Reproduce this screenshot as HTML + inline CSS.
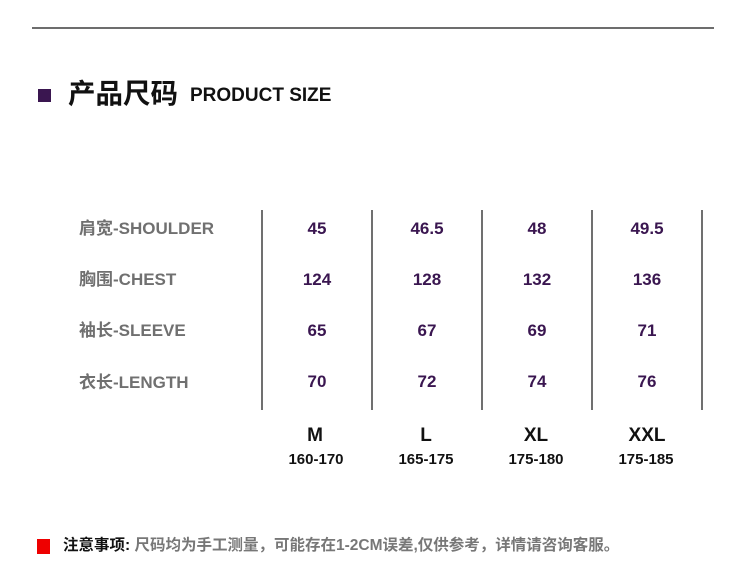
<!DOCTYPE html>
<html><head><meta charset="utf-8"><style>
body{margin:0;width:750px;height:588px;background:#fff;position:relative;overflow:hidden;font-family:"Liberation Sans","Noto Sans CJK SC",sans-serif;}
.a{position:absolute;white-space:nowrap}
.c{position:absolute;transform:translateX(-50%);white-space:nowrap;text-align:center}
.v{position:absolute;top:210px;width:2px;height:200px;background:#707070}
.lbl{left:79px;font-size:17px;color:#707070;font-weight:bold;line-height:20px}
.num{font-size:17px;color:#3a1650;font-weight:bold;line-height:20px}
.sz{font-size:19px;color:#111;font-weight:bold;line-height:22px}
.rg{font-size:15px;color:#111;font-weight:bold;line-height:18px}
</style></head><body>
<div class="a" style="left:32px;top:27px;width:682px;height:2px;background:#6d6d6d"></div>
<div class="a" style="left:38px;top:89px;width:13px;height:13px;background:#3a1650"></div>
<div class="a" style="left:68px;top:77px;font-size:27.5px;font-weight:bold;color:#111;line-height:34px">产品尺码</div>
<div class="a" style="left:190px;top:85px;font-size:19px;font-weight:bold;color:#111;line-height:22px">PRODUCT SIZE</div>

<div class="v" style="left:261px"></div><div class="v" style="left:371px"></div><div class="v" style="left:481px"></div><div class="v" style="left:591px"></div><div class="v" style="left:701px"></div>

<div class="a lbl" style="top:219px">肩宽-SHOULDER</div>
<div class="a lbl" style="top:270px">胸围-CHEST</div>
<div class="a lbl" style="top:321px">袖长-SLEEVE</div>
<div class="a lbl" style="top:373px">衣长-LENGTH</div>

<div class="c num" style="left:317px;top:219px">45</div><div class="c num" style="left:427px;top:219px">46.5</div><div class="c num" style="left:537px;top:219px">48</div><div class="c num" style="left:647px;top:219px">49.5</div>
<div class="c num" style="left:317px;top:270px">124</div><div class="c num" style="left:427px;top:270px">128</div><div class="c num" style="left:537px;top:270px">132</div><div class="c num" style="left:647px;top:270px">136</div>
<div class="c num" style="left:317px;top:321px">65</div><div class="c num" style="left:427px;top:321px">67</div><div class="c num" style="left:537px;top:321px">69</div><div class="c num" style="left:647px;top:321px">71</div>
<div class="c num" style="left:317px;top:372px">70</div><div class="c num" style="left:427px;top:372px">72</div><div class="c num" style="left:537px;top:372px">74</div><div class="c num" style="left:647px;top:372px">76</div>

<div class="c sz" style="left:315px;top:425px">M</div><div class="c sz" style="left:426px;top:425px">L</div><div class="c sz" style="left:536px;top:425px">XL</div><div class="c sz" style="left:647px;top:425px">XXL</div>
<div class="c rg" style="left:316px;top:451px">160-170</div><div class="c rg" style="left:426px;top:451px">165-175</div><div class="c rg" style="left:536px;top:451px">175-180</div><div class="c rg" style="left:646px;top:451px">175-185</div>

<div class="a" style="left:37px;top:539px;width:13px;height:15px;background:#ee0000"></div>
<div class="a" style="left:63px;top:536px;font-size:15.5px;line-height:20px;font-weight:bold;color:#111">注意事项: <span style="color:#777">尺码均为手工测量，可能存在1-2CM误差,仅供参考，详情请咨询客服。</span></div>
</body></html>
